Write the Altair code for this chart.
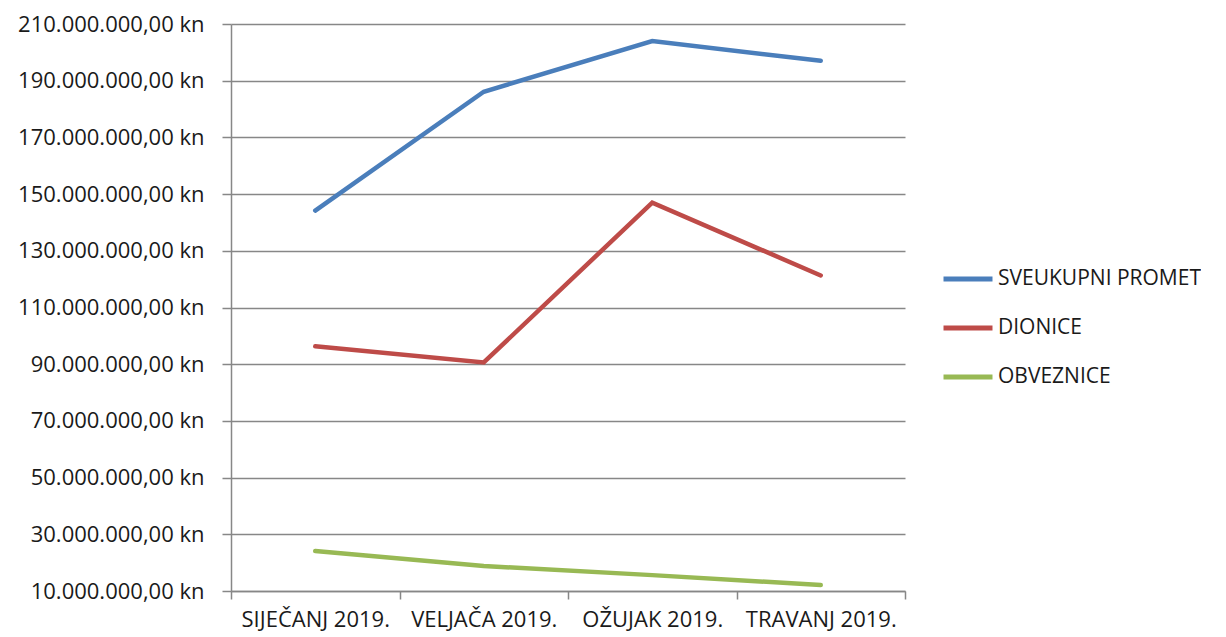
import altair as alt
import pandas as pd

months = ["SIJEČANJ 2019.", "VELJAČA 2019.", "OŽUJAK 2019.", "TRAVANJ 2019."]
series = ["SVEUKUPNI PROMET", "DIONICE", "OBVEZNICE"]
sveukupni = [144_200_000, 186_100_000, 204_000_000, 197_000_000]
dionice = [96_300_000, 90_600_000, 147_000_000, 121_300_000]
obveznice = [24_100_000, 18_800_000, 15_600_000, 12_100_000]
colors = ["#4A7EBB", "#BE4B48", "#98B954"]
y_ticks = [10_000_000 + 20_000_000 * i for i in range(11)]

rows = []
for name, vals in zip(series, [sveukupni, dionice, obveznice]):
    for m, v in zip(months, vals):
        rows.append({"mjesec": m, "serija": name, "iznos": v})
df = pd.DataFrame(rows)

label_expr = ("replace(replace(replace(format(datum.value, ',.2f'), regexp(',', 'g'), '_'), '.', ','), "
              "regexp('_', 'g'), '.') + ' kn'")

FONT = "Open Sans"
GRID = "#878787"
TEXT = "#1a1a1a"

chart = alt.Chart(df).mark_line(strokeWidth=4.5, strokeCap="round").encode(
    x=alt.X("mjesec:N", sort=months,
            scale=alt.Scale(type="band", paddingInner=0, paddingOuter=0),
            axis=alt.Axis(title=None, labelAngle=0, tickBand="extent", grid=False,
                          domainColor=GRID, domainWidth=1.5, tickColor=GRID, tickWidth=1.5,
                          tickSize=8, labelPadding=10, labelFontSize=22, labelColor=TEXT,
                          labelFont=FONT, labelBaseline="top", labelLimit=300)),
    y=alt.Y("iznos:Q",
            scale=alt.Scale(domain=[10_000_000, 210_000_000], nice=False, zero=False),
            axis=alt.Axis(title=None, values=y_ticks, labelExpr=label_expr,
                          grid=True, gridColor=GRID, gridWidth=1.5,
                          domainColor=GRID, domainWidth=1.5, tickColor=GRID, tickWidth=1.5,
                          tickSize=9, labelPadding=18, labelFontSize=22, labelColor=TEXT,
                          labelFont=FONT, labelLimit=300)),
    color=alt.Color("serija:N", sort=series,
                    scale=alt.Scale(domain=series, range=colors),
                    legend=alt.Legend(title=None, orient="none", legendX=710, legendY=228,
                                      symbolType="stroke", symbolSize=2400, symbolStrokeWidth=5,
                                      rowPadding=12, labelOffset=3, labelFontSize=21,
                                      labelFont=FONT, labelColor=TEXT, labelLimit=400)),
).properties(
    width=674, height=567,
    padding={"left": 9, "top": 5, "right": 0, "bottom": 3},
).configure_view(stroke=None)

chart.save("out.html", embed_options={"renderer": "svg", "actions": False})
